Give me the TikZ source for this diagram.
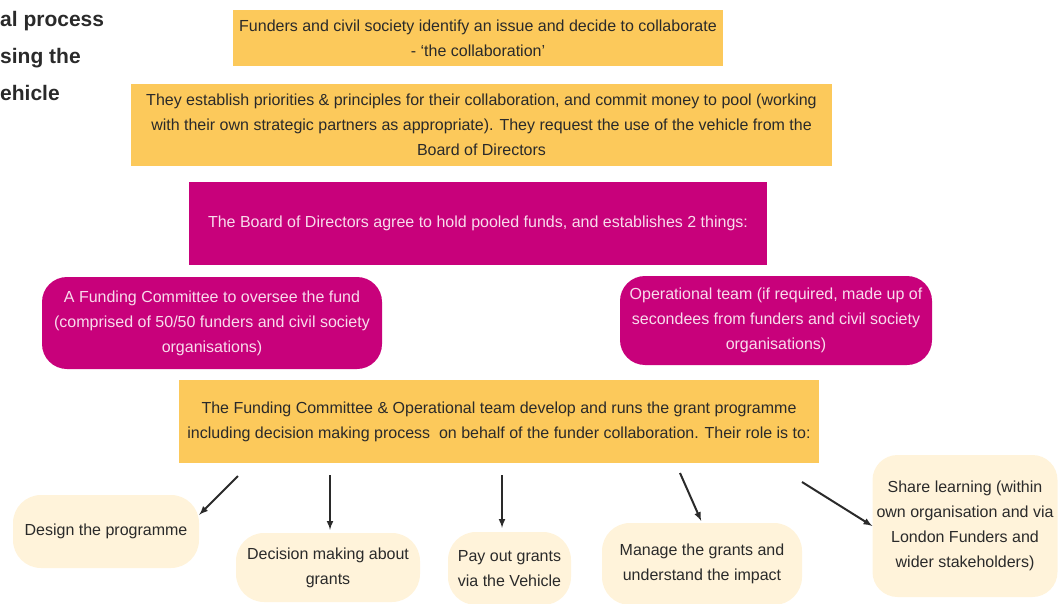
\documentclass[tikz,border=0pt]{standalone}
\usepackage{fontspec}
\setmainfont{Liberation Sans}
\usepackage{tikz}
\usetikzlibrary{arrows}
\definecolor{mustard}{HTML}{FCC95B}
\definecolor{berry}{HTML}{C8017B}
\definecolor{cream}{HTML}{FFF3DA}
\definecolor{ink}{HTML}{2A2A2A}
\definecolor{blush}{HTML}{F8DCEC}

\begin{document}
\begin{tikzpicture}[x=1pt, y=-1pt,
		every node/.style={inner sep=0pt, font=\fontsize{16}{25}\selectfont},
		flatbox/.style={fill=mustard, text=ink, align=center},
		pinkbox/.style={fill=berry, text=blush, align=center},
		pinkpill/.style={pinkbox, rounded corners=25pt},
		rolebox/.style={fill=cream, text=ink, align=center, rounded corners=28pt},
		role/.style={-latex, line width=2pt, ink}]
	\useasboundingbox (0,0) rectangle (1059,604);
	\node [anchor=north west, align=left, text=ink, font=\fontsize{21}{37}\selectfont\bfseries] (title) at (0,11) {al process\\sing the\\ehicle};
	\node [flatbox, minimum width=490pt, minimum height=56pt] (issue) at (478,38) {Funders and civil society identify an issue and decide to collaborate\\- ‘the collaboration’};
	\node [flatbox, minimum width=701pt, minimum height=82pt] (priorities) at (481.5,125) {They establish priorities \& principles for their collaboration, and commit money to pool (working\\with their own strategic partners as appropriate). They request the use of the vehicle from the\\Board of Directors};
	\node [pinkbox, minimum width=578pt, minimum height=83pt] (board) at (478,223.5) {The Board of Directors agree to hold pooled funds, and establishes 2 things:};
	\node [pinkpill, minimum width=340pt, minimum height=92pt] (committee) at (212,323) {A Funding Committee to oversee the fund\\(comprised of 50/50 funders and civil society\\organisations)};
	\node [pinkpill, minimum width=312pt, minimum height=89pt] (opteam) at (776,320.5) {Operational team (if required, made up of\\secondees from funders and civil society\\organisations)};
	\node [flatbox, minimum width=640pt, minimum height=83pt] (grant) at (499,421.5) {The Funding Committee \& Operational team develop and runs the grant programme\\including decision making process\ \ on behalf of the funder collaboration. Their role is to:};
	\node [rolebox, minimum width=186pt, minimum height=73pt] (design) at (106,531.5) {Design the programme};
	\node [rolebox, minimum width=184pt, minimum height=69pt] (decision) at (328,567.5) {Decision making about\\grants};
	\node [rolebox, minimum width=123pt, minimum height=73pt] (pay) at (509.5,568.5) {Pay out grants\\via the Vehicle};
	\node [rolebox, minimum width=200pt, minimum height=82pt] (manage) at (702,564) {Manage the grants and\\understand the impact};
	\node [rolebox, rounded corners=25pt, minimum width=185pt, minimum height=142pt] (share) at (965,526) {Share learning (within\\own organisation and via\\London Funders and\\wider stakeholders)};
	% arrows out of the grant programme box
	\coordinate (s1) at (238,476);
	\coordinate (s2) at (330,475);
	\coordinate (s3) at (502,475);
	\coordinate (s4) at (680,473);
	\coordinate (s5) at (802,482);
	\draw [role] (s1) -- ([yshift=-20pt]design.north east);
	\draw [role, shorten >=3pt] (s2) -- (s2 |- decision.north);
	\draw [role, shorten >=4pt] (s3) -- (s3 |- pay.north);
	\draw [role, shorten >=2pt] (s4) -- (manage.north);
	\draw [role] (s5) -- (share.west);
\end{tikzpicture}
\end{document}
